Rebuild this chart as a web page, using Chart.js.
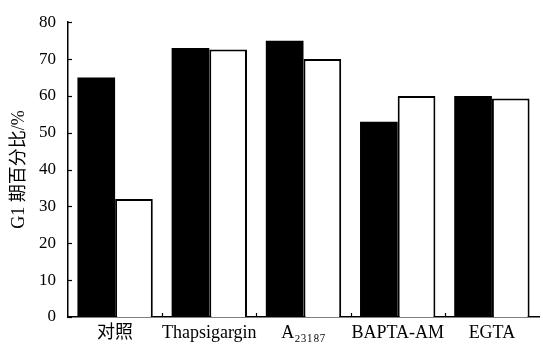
<!DOCTYPE html>
<html>
<head>
<meta charset="utf-8">
<script src="https://cdn.jsdelivr.net/npm/chart.js@4"></script>
<style>
  html, body { margin: 0; padding: 0; background: #fff; }
  #wrap { width: 543px; height: 348px; }
</style>
</head>
<body>
<div id="wrap"><canvas id="g1Chart"></canvas></div>
<script>
// categories and G1 phase percentages
const groups = ["对照", "Thapsigargin", "A₂₃₁₈₇", "BAPTA-AM", "EGTA"];
const blackBars = [65, 73, 75, 53, 60];
const whiteBars = [32, 72.6, 70, 60, 59.3];
const yTicks = [0, 10, 20, 30, 40, 50, 60, 70, 80];

const FONT = "'Liberation Serif', 'Times New Roman', 'Noto Sans CJK SC', serif";

// small tick marks pointing into the plot, like the printed figure
const innerTicks = {
  id: "innerTicks",
  afterDraw(chart) {
    const ctx = chart.ctx;
    const xs = chart.scales.x;
    const ys = chart.scales.y;
    ctx.save();
    ctx.strokeStyle = "#000";
    ctx.lineWidth = 1.2;
    ys.ticks.forEach((t) => {
      const py = Math.round(ys.getPixelForValue(t.value)) + 0.5;
      ctx.beginPath();
      ctx.moveTo(xs.left, py);
      ctx.lineTo(xs.left + 4, py);
      ctx.stroke();
    });
    for (let i = 1; i < groups.length; i++) {
      const px = Math.round(xs.getPixelForValue(i - 0.5)) + 0.5;
      ctx.beginPath();
      ctx.moveTo(px, ys.bottom);
      ctx.lineTo(px, ys.bottom - 4);
      ctx.stroke();
    }
    ctx.restore();
  },
};

const ctx = document.getElementById("g1Chart").getContext("2d");
new Chart(ctx, {
  type: "bar",
  data: {
    labels: groups,
    datasets: [
      {
        data: blackBars,
        backgroundColor: "#000",
        borderColor: "#000",
        borderWidth: 0,
        barPercentage: 1.0,
        categoryPercentage: 0.8,
      },
      {
        data: whiteBars,
        backgroundColor: "#fff",
        borderColor: "#000",
        borderWidth: 2,
        barPercentage: 1.0,
        categoryPercentage: 0.8,
      },
    ],
  },
  options: {
    responsive: true,
    maintainAspectRatio: false,
    animation: false,
    layout: { padding: { top: 17, right: 4, left: 0, bottom: 0 } },
    plugins: {
      legend: { display: false },
      tooltip: { enabled: false },
    },
    scales: {
      x: {
        offset: true,
        grid: { display: false, drawTicks: false },
        border: { display: true, color: "#000", width: 1.5 },
        ticks: {
          color: "#000",
          padding: 5,
          maxRotation: 0,
          autoSkip: false,
          font: { family: FONT, size: 18 },
        },
        afterFit(scale) {
          scale.height = 31;
        },
      },
      y: {
        min: 0,
        max: 80,
        afterBuildTicks(scale) {
          scale.ticks = yTicks.map((v) => ({ value: v }));
        },
        grid: { display: false, drawTicks: false },
        border: { display: true, color: "#000", width: 1.5 },
        ticks: {
          color: "#000",
          padding: 12,
          font: { family: FONT, size: 17 },
        },
        title: {
          display: true,
          text: "G1 期百分比/%",
          color: "#000",
          padding: { top: 8, bottom: 2 },
          font: { family: FONT, size: 18 },
        },
        afterFit(scale) {
          scale.width = 68;
        },
      },
    },
  },
  plugins: [innerTicks],
});
</script>
</body>
</html>
